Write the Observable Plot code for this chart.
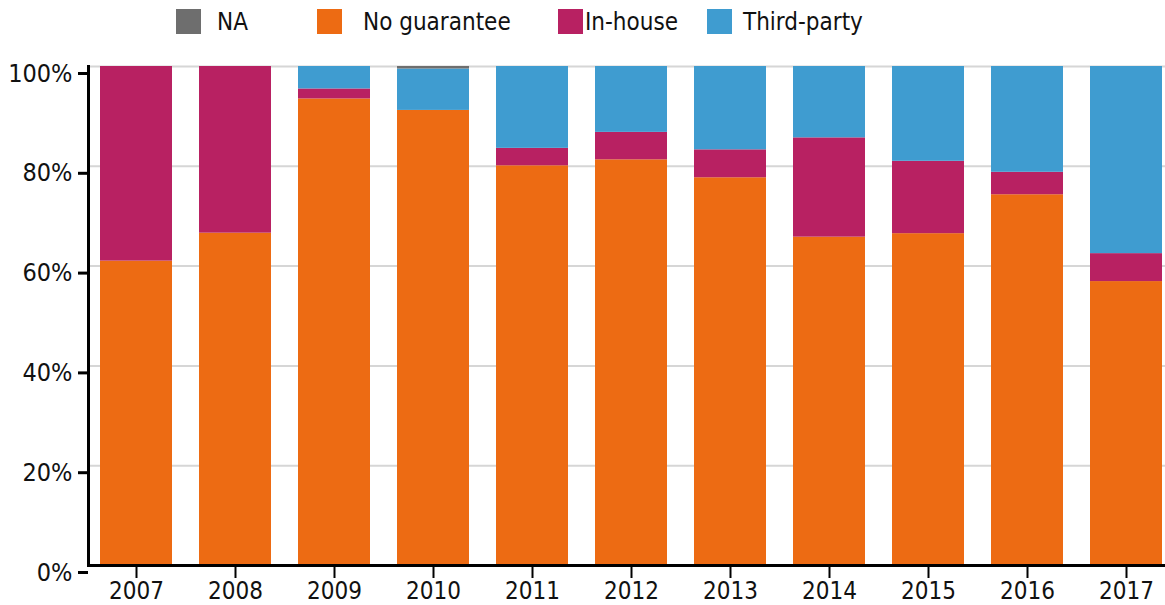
<!DOCTYPE html>
<html>
<head>
<meta charset="utf-8">
<script src="https://cdn.jsdelivr.net/npm/d3@7"></script>
<script src="https://cdn.jsdelivr.net/npm/@observablehq/plot@0.6"></script>
<style>
  body { margin: 0; background: #fff; font-family: "Liberation Sans Narrow", "DejaVu Sans Condensed", Roboto, sans-serif; }
  #legend { position: relative; height: 48px; width: 1165px; }
  .sw { position: absolute; top: 9px; width: 25px; height: 25px; }
  .lb { position: absolute; top: 7px; font-size: 24px; color: #111; line-height: 30px; }
</style>
</head>
<body>
<div id="legend"></div>
<div id="chart"></div>
<script>
const years = ["2007","2008","2009","2010","2011","2012","2013","2014","2015","2016","2017"];
const series = ["NA", "No guarantee", "In-house", "Third-party"];
const colors = ["#6e6e6e", "#ed6b13", "#b82162", "#3f9cd0"];
const noGuarantee = [61.0, 66.6, 93.5, 91.2, 80.1, 81.3, 77.7, 65.8, 66.5, 74.3, 56.9];
const inHouse     = [39.0, 33.4,  2.0,  0.0,  3.5,  5.5,  5.6, 19.9, 14.5,  4.5,  5.6];
const thirdParty  = [ 0.0,  0.0,  4.5,  8.3, 16.4, 13.2, 16.7, 14.3, 19.0, 21.2, 37.5];
const naValues    = [ 0.0,  0.0,  0.0,  0.5,  0.0,  0.0,  0.0,  0.0,  0.0,  0.0,  0.0];
const yTicks = [0, 20, 40, 60, 80, 100];

const data = [];
years.forEach((yr, i) => {
  data.push({year: yr, type: "No guarantee", value: noGuarantee[i]});
  data.push({year: yr, type: "In-house", value: inHouse[i]});
  data.push({year: yr, type: "Third-party", value: thirdParty[i]});
  data.push({year: yr, type: "NA", value: naValues[i]});
});

// legend
const legendPos = [[176, 217], [317, 363], [558, 585], [707, 743]];
const leg = document.getElementById("legend");
series.forEach((s, i) => {
  const sw = document.createElement("div");
  sw.className = "sw"; sw.style.left = legendPos[i][0] + "px"; sw.style.background = colors[i];
  const lb = document.createElement("div");
  lb.className = "lb"; lb.style.left = legendPos[i][1] + "px"; lb.textContent = s;
  leg.appendChild(sw); leg.appendChild(lb);
});

const chart = Plot.plot({
  width: 1165,
  height: 557,
  marginTop: 18,
  marginBottom: 40,
  marginLeft: 88,
  marginRight: -9,
  style: {fontFamily: "'Liberation Sans Narrow', 'DejaVu Sans Condensed', Roboto, sans-serif", fontSize: "25px", color: "#111", background: "#fff"},
  x: {domain: years, paddingInner: 0.273, paddingOuter: 0.121, label: null},
  y: {domain: [0, 100], label: null},
  color: {domain: series, range: colors},
  marks: [
    Plot.gridY(yTicks.filter(d => d > 0), {stroke: "#d6d6d6", strokeOpacity: 1, strokeWidth: 2}),
    Plot.barY(data, {x: "year", y: "value", fill: "type", order: ["No guarantee", "In-house", "Third-party", "NA"]}),
    Plot.axisY(yTicks, {tickSize: 10, tickPadding: 6, strokeWidth: 3, stroke: "#000", tickFormat: d => d + "%", dy: 7, label: null, fill: "#111"}),
    Plot.axisX({tickSize: 13, tickPadding: 3, strokeWidth: 2, stroke: "#000", label: null, fill: "#111", fontSize: 24}),
    Plot.ruleY([0], {stroke: "#000", strokeWidth: 3}),
    Plot.frame({anchor: "left", stroke: "#000", strokeWidth: 3})
  ]
});
document.getElementById("chart").appendChild(chart);
</script>
</body>
</html>
